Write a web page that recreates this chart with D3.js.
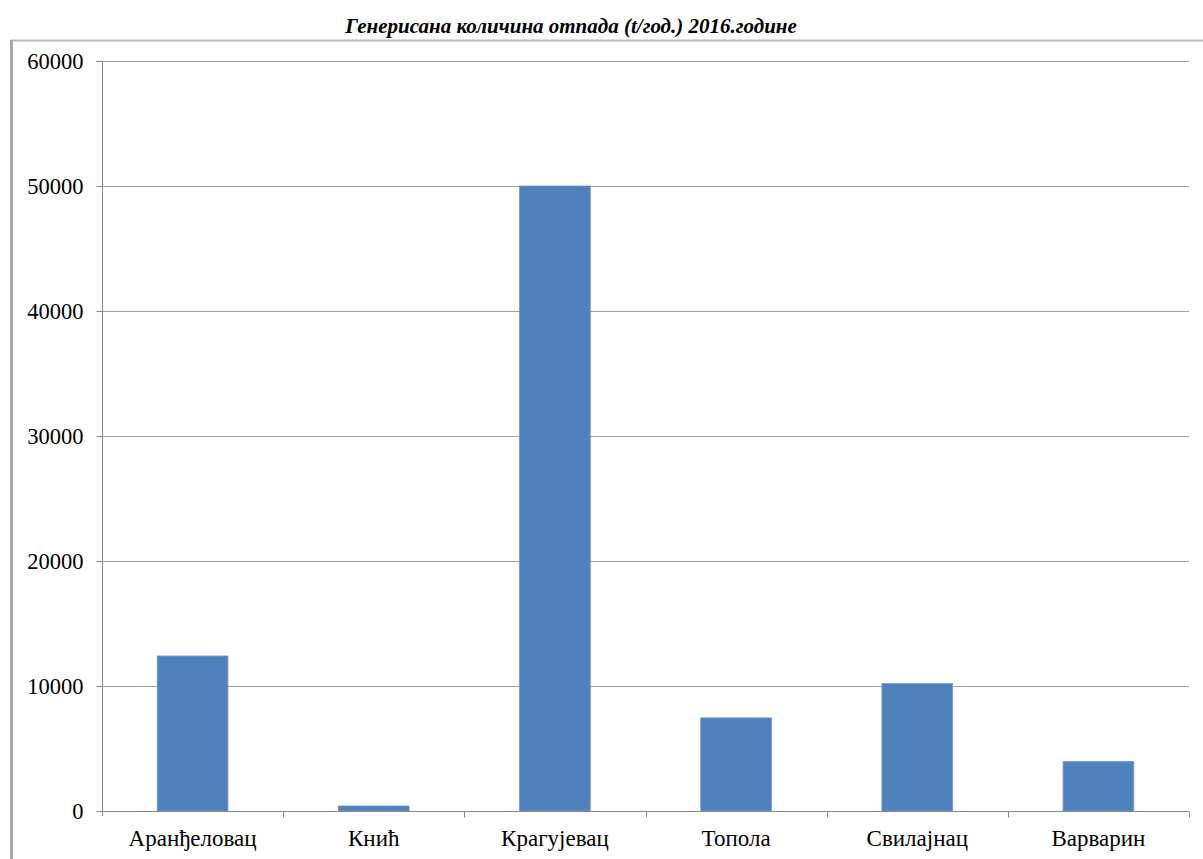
<!DOCTYPE html>
<html>
<head>
<meta charset="utf-8">
<script src="https://cdn.jsdelivr.net/npm/d3@7"></script>
<style>
  html, body { margin: 0; padding: 0; background: #fff; }
  svg { display: block; }
  svg text { font-family: "Liberation Serif", "Times New Roman", Times, serif; }
</style>
</head>
<body>
<svg id="chart" width="1203" height="859"></svg>
<script>
const title = "Генерисана количина отпада (t/год.) 2016.године";
const categories = ["Аранђеловац", "Кнић", "Крагујевац", "Топола", "Свилајнац", "Варварин"];
const values = [12400, 400, 50000, 7450, 10200, 3950];
const yTicks = [0, 10000, 20000, 30000, 40000, 50000, 60000];

const svg = d3.select("#chart");
const W = 1203, H = 859;
const m = { left: 102, right: 14, top: 61, bottom: 48 };
const plotW = W - m.left - m.right;
const plotH = H - m.top - m.bottom;

// outer frame
svg.append("line").attr("x1", 11).attr("x2", W).attr("y1", 40.5).attr("y2", 40.5)
  .attr("stroke", "#bcbcbc").attr("stroke-width", 2);
svg.append("line").attr("x1", 11.5).attr("x2", 11.5).attr("y1", 40).attr("y2", H)
  .attr("stroke", "#a9a9a9").attr("stroke-width", 3);

// title
svg.append("text").attr("x", 571).attr("y", 33).attr("text-anchor", "middle")
  .style("font-weight", "bold").style("font-style", "italic").style("font-size", "21px")
  .attr("fill", "#000").text(title);

const x = d3.scaleBand().domain(categories).range([0, plotW]).paddingInner(0.61).paddingOuter(0.305);
const xStep = d3.scaleBand().domain(categories).range([0, plotW]);
const y = d3.scaleLinear().domain([0, 60000]).range([plotH, 0]);

const g = svg.append("g").attr("transform", `translate(${m.left},${m.top})`);

// gridlines
g.append("g").selectAll("line").data(yTicks.filter(d => d > 0)).join("line")
  .attr("x1", 0).attr("x2", plotW)
  .attr("y1", d => Math.round(y(d)) + 0.5).attr("y2", d => Math.round(y(d)) + 0.5)
  .attr("stroke", "#a0a0a0").attr("stroke-width", 1);

// bars
g.append("g").selectAll("rect").data(values).join("rect")
  .attr("x", (d, i) => x(categories[i]))
  .attr("y", d => y(d))
  .attr("width", x.bandwidth())
  .attr("height", d => plotH - y(d))
  .attr("fill", "#4f81bd")
  .attr("stroke", "#6a96cc").attr("stroke-width", 0.8);

// y axis
const yAxis = d3.axisLeft(y).tickValues(yTicks).tickSize(6).tickPadding(13).tickFormat(d3.format("d"));
const ya = g.append("g").attr("transform", "translate(0.5,0)").call(yAxis);
ya.attr("font-family", null);
ya.select(".domain").attr("stroke", "#868686").attr("d", `M-6,0.5H0V${plotH + 5}`);
ya.selectAll(".tick line").attr("stroke", "#868686");
ya.selectAll(".tick text").style("font-size", "22.5px").attr("fill", "#000");

// x axis
const xAxis = d3.axisBottom(xStep).tickSize(0).tickPadding(18);
const xa = g.append("g").attr("transform", `translate(0,${plotH + 0.5})`).call(xAxis);
xa.attr("font-family", null);
xa.select(".domain").attr("stroke", "#868686").attr("d", `M0,0H${plotW}`);
xa.selectAll(".tick text").style("font-size", "23px").attr("fill", "#000");
// category separator ticks
const seps = d3.range(categories.length + 1).map(i => i * xStep.step());
xa.append("g").selectAll("line").data(seps.slice(1)).join("line")
  .attr("x1", d => Math.round(d) + 0.5).attr("x2", d => Math.round(d) + 0.5)
  .attr("y1", 0).attr("y2", 6).attr("stroke", "#868686");
</script>
</body>
</html>
